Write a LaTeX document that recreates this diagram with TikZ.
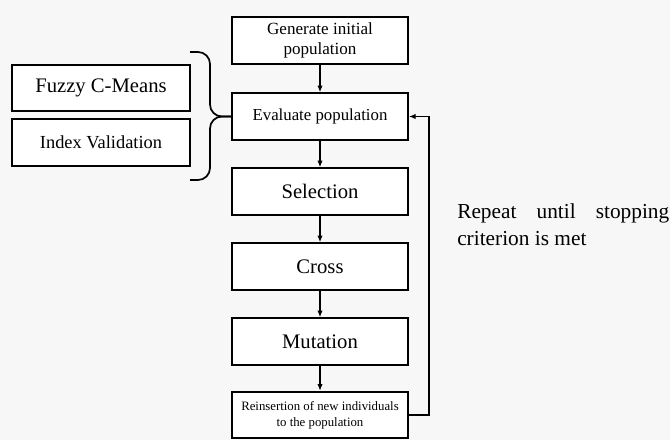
\documentclass[tikz,border=0pt]{standalone}
\usepackage{fontspec}
\setmainfont{Liberation Serif}
\usetikzlibrary{arrows.meta}

\tikzset{
  stepbox/.style={draw, line width=1.3pt, fill=white, minimum width=132pt,
    minimum height=35pt, inner sep=1pt, align=center},
  sidebox/.style={stepbox, minimum width=133.5pt},
  flow/.style={line width=1.1pt, -{Latex[length=5pt,width=4pt]}},
}

\begin{document}
\begin{tikzpicture}[x=0.75pt,y=-0.75pt]
\useasboundingbox (0,0) rectangle (670,440);
\fill[black!3] (0,0) rectangle (670,440);
% main column
\node[stepbox, font=\fontsize{12.8}{14.5}\selectfont] (gen) at (320,40.5) {Generate initial\\population};
\node[stepbox, font=\fontsize{12.6}{14.5}\selectfont] (eval) at (320,116.5) {Evaluate population};
\node[stepbox, font=\fontsize{15.5}{18}\selectfont] (sel) at (320,191.5) {Selection};
\node[stepbox, font=\fontsize{15.5}{18}\selectfont] (cross) at (320,266.5) {Cross};
\node[stepbox, font=\fontsize{15.5}{18}\selectfont] (mut) at (320,341.5) {Mutation};
\node[stepbox, font=\fontsize{9.6}{12}\selectfont] (reins) at (320,415) {Reinsertion of new individuals\\to the population};
% left boxes
\node[sidebox, font=\fontsize{15.5}{17}\selectfont] (fcm) at (101,88) {Fuzzy C-Means};
\node[sidebox, font=\fontsize{13.8}{15}\selectfont] (idx) at (101,142.5) {Index Validation};
% brace
\coordinate (bt) at (190,52);
\coordinate (bb) at (190,180);
\draw[line width=1.3pt, rounded corners=9pt] (bt) -- ++(20,0) |- (eval.west);
\draw[line width=1.3pt, rounded corners=9pt] (bb) -- ++(20,0) |- (eval.west);
% arrows
\draw[flow] (gen) -- (eval);
\draw[flow] (eval) -- (sel);
\draw[flow] (sel) -- (cross);
\draw[flow] (cross) -- (mut);
\draw[flow] (mut) -- (reins);
\draw[flow] (reins.east) -- ++(20,0) |- (eval.east);
% note
\node[anchor=north west, text width=159pt, align=justify, inner sep=0pt,
  font=\fontsize{16}{20.5}\selectfont] (note) at (457,203)
  {\hyphenpenalty=10000 Repeat until stopping\linebreak criterion is met};
\end{tikzpicture}
\end{document}
